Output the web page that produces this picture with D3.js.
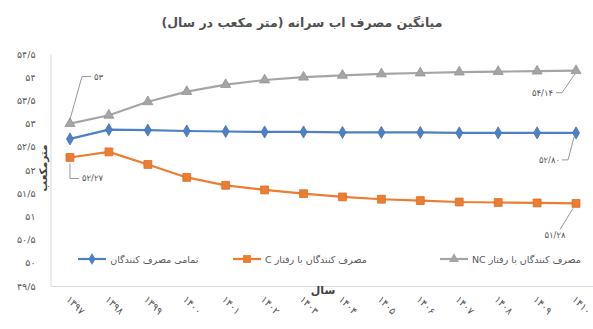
<!DOCTYPE html>
<html>
<head>
<meta charset="utf-8">
<script src="https://cdn.jsdelivr.net/npm/d3@7"></script>
<style>
  body { margin: 0; background: #ffffff; }
  svg { display: block; }
  text { font-family: "DejaVu Sans", "Noto Sans", sans-serif; }
</style>
</head>
<body>
<svg id="chart" width="593" height="329"></svg>
<script>
// Years (Solar Hijri) on the category axis
const years = ["۱۳۹۷", "۱۳۹۸", "۱۳۹۹", "۱۴۰۰", "۱۴۰۱", "۱۴۰۲", "۱۴۰۳",
               "۱۴۰۴", "۱۴۰۵", "۱۴۰۶", "۱۴۰۷", "۱۴۰۸", "۱۴۰۹", "۱۴۱۰"];

// Average per-capita water use, cubic metres per year
const allConsumers = [52.67, 52.87, 52.86, 52.84, 52.83, 52.82, 52.82,
                      52.81, 52.81, 52.81, 52.80, 52.80, 52.80, 52.80];
const cConsumers   = [52.27, 52.39, 52.12, 51.84, 51.67, 51.57, 51.49,
                      51.42, 51.37, 51.34, 51.31, 51.30, 51.29, 51.28];
const ncConsumers  = [53.00, 53.18, 53.47, 53.69, 53.84, 53.94, 54.00,
                      54.04, 54.07, 54.09, 54.11, 54.12, 54.13, 54.14];

const yTicks = [49.5, 50, 50.5, 51, 51.5, 52, 52.5, 53, 53.5, 54, 54.5];

const seriesNames = ["تمامی مصرف کنندگان", "مصرف کنندگان با رفتار C", "مصرف کنندگان با رفتار NC"];
const titleText = "میانگین مصرف اب سرانه (متر مکعب در سال)";
const xTitle = "سال";
const yTitle = "مترمکعب";

// Persian digits with "/" as the decimal mark
const faDigits = "۰۱۲۳۴۵۶۷۸۹";
function toFa(s) {
  return String(s).replace(/[0-9]/g, d => faDigits[+d]).replace(".", "/");
}
const fmtLabel = v => toFa(Number.isInteger(v) ? v : v.toFixed(2));

const svg = d3.select("#chart");

const x = d3.scalePoint().domain(d3.range(years.length)).range([50.5, 595.5]).padding(0.5);
const y = d3.scaleLinear().domain([49.5, 54.5]).range([286, 54]);

const series = [
  { name: seriesNames[0], values: allConsumers, color: "#4E80C4", symbol: d3.symbolDiamond, size: 42 },
  { name: seriesNames[1], values: cConsumers,   color: "#ED7D31", symbol: d3.symbolSquare,  size: 62 },
  { name: seriesNames[2], values: ncConsumers,  color: "#A5A5A5", symbol: d3.symbolTriangle, size: 44 }
];

// Title
svg.append("text")
  .attr("x", 302).attr("y", 27)
  .attr("text-anchor", "middle")
  .attr("direction", "rtl")
  .attr("font-size", 12.5).attr("font-weight", "bold")
  .attr("fill", "#505050")
  .text(titleText);

// Axes
const yAxis = d3.axisLeft(y).tickValues(yTicks).tickSize(0).tickPadding(15).tickFormat(toFa);
const gy = svg.append("g").attr("transform", "translate(50.5,0)").call(yAxis);
gy.select(".domain").attr("stroke", "#d9d9d9");
gy.selectAll("text").attr("font-size", 9.5).attr("fill", "#595959")
  .style("font-family", "'DejaVu Sans', sans-serif");

const xAxis = d3.axisBottom(x).tickSize(0).tickFormat(i => years[i]);
const gx = svg.append("g").attr("transform", "translate(0,286)").call(xAxis);
gx.select(".domain").attr("stroke", "#d9d9d9");
gx.selectAll("text")
  .attr("font-size", 10).attr("fill", "#595959")
  .attr("text-anchor", "start")
  .attr("dy", null).attr("y", 0)
  .attr("transform", "translate(-5,14) rotate(45)")
  .style("font-family", "'DejaVu Sans', sans-serif");

// Axis titles
svg.append("text")
  .attr("x", 323).attr("y", 294)
  .attr("text-anchor", "middle").attr("direction", "rtl")
  .attr("font-size", 11).attr("font-weight", "bold").attr("fill", "#404040")
  .text(xTitle);

svg.append("text")
  .attr("transform", "translate(47,168) rotate(-90)")
  .attr("text-anchor", "middle").attr("direction", "rtl")
  .attr("font-size", 10.5).attr("font-weight", "bold").attr("fill", "#404040")
  .text(yTitle);

// Lines and markers
const line = d3.line().x((d, i) => x(i)).y(d => y(d));
series.forEach(s => {
  svg.append("path")
    .datum(s.values)
    .attr("fill", "none")
    .attr("stroke", s.color)
    .attr("stroke-width", 2.2)
    .attr("stroke-linejoin", "round")
    .attr("d", line);
  svg.append("g").selectAll("path")
    .data(s.values)
    .join("path")
    .attr("transform", (d, i) => `translate(${x(i)},${y(d)})`)
    .attr("d", d3.symbol().type(s.symbol).size(s.size))
    .attr("fill", s.color)
    .attr("stroke", d3.color(s.color).darker(0.3))
    .attr("stroke-width", 0.8);
});

// Data labels with leader lines
const last = years.length - 1;
const callouts = [
  { values: ncConsumers,  i: 0,    path: [[0, -4], [12, -47], [21, -47]], tx: 24, ty: -44, anchor: "start" },
  { values: cConsumers,   i: 0,    path: [[0, 6], [0, 21], [9, 21]],     tx: 12, ty: 24,  anchor: "start" },
  { values: ncConsumers,  i: last, path: [[-1, 3], [-14, 22], [-20, 22]], tx: -23, ty: 25, anchor: "end" },
  { values: allConsumers, i: last, path: [[-2, 4], [-8, 27], [-14, 27]],  tx: -16, ty: 30, anchor: "end" },
  { values: cConsumers,   i: last, path: [[-3, 5], [-16, 26]],           tx: -21, ty: 35, anchor: "middle" }
];
callouts.forEach(c => {
  const px = x(c.i), py = y(c.values[c.i]);
  svg.append("polyline")
    .attr("points", c.path.map(p => [px + p[0], py + p[1]].join(",")).join(" "))
    .attr("fill", "none").attr("stroke", "#8c8c8c").attr("stroke-width", 0.9);
  svg.append("text")
    .attr("x", px + c.tx).attr("y", py + c.ty)
    .attr("text-anchor", c.anchor)
    .attr("font-size", 8.5).attr("fill", "#595959")
    .text(fmtLabel(c.values[c.i]));
});

// Legend
const legendY = 259;
const legendStarts = [78, 233, 440];
series.forEach((s, k) => {
  const g = svg.append("g").attr("transform", `translate(${legendStarts[k]},${legendY})`);
  g.append("line").attr("x1", 0).attr("x2", 28).attr("y1", 0).attr("y2", 0)
    .attr("stroke", s.color).attr("stroke-width", 2.2);
  g.append("path").attr("transform", "translate(14,0)")
    .attr("d", d3.symbol().type(s.symbol).size(s.size))
    .attr("fill", s.color);
  const t = g.append("text")
    .attr("y", 3.5)
    .attr("text-anchor", "middle").attr("direction", "rtl")
    .attr("font-size", 9.5).attr("fill", "#595959")
    .text(s.name);
  const w = t.node().getBBox().width;
  t.attr("x", 32 + w / 2);
});
</script>
</body>
</html>
